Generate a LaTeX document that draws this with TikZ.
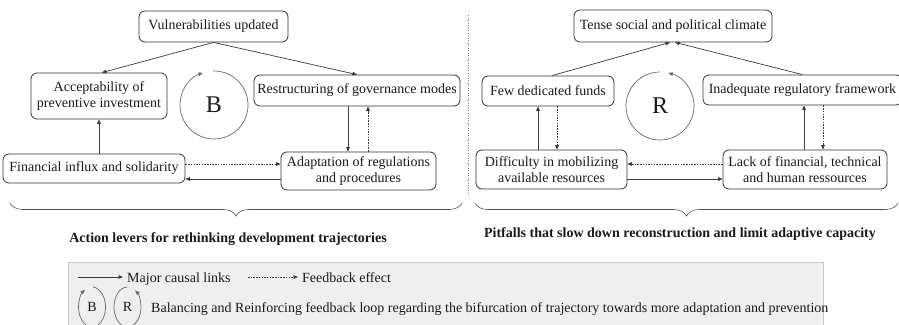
\documentclass[tikz,border=0pt]{standalone}
\usepackage{fontspec}
\setmainfont{Liberation Serif}
\usetikzlibrary{arrows.meta,decorations.pathreplacing,calc}
\definecolor{boxc}{HTML}{333333}
\definecolor{linec}{HTML}{3A3A3A}
\definecolor{circc}{HTML}{6A6A6A}
\definecolor{txt}{HTML}{1A1A1A}
\definecolor{legfill}{HTML}{EFEFEF}
\definecolor{legline}{HTML}{C8C8C8}
\definecolor{bracec}{HTML}{555555}
\begin{document}
\begin{tikzpicture}[x=1pt,y=-1pt,
  box/.style={draw=boxc, line width=0.8pt, rounded corners=6pt, align=center, inner sep=1pt,
    font=\fontsize{14}{16}\selectfont, text=txt},
  causal/.style={draw=linec, line width=0.7pt, -{Triangle[length=4.5pt,width=3.6pt]}},
  fb/.style={causal, dash pattern=on 1.5pt off 1.2pt},
  loopc/.style={draw=circc, line width=0.7pt, -{Triangle[length=4.5pt,width=3.6pt]}},
  bigletter/.style={font=\fontsize{24}{24}\selectfont, text=txt, inner sep=0pt},
  smallletter/.style={font=\fontsize{14}{16}\selectfont, text=txt, inner sep=0pt},
  lbl/.style={font=\bfseries\fontsize{14}{16}\selectfont, text=txt, anchor=base, inner sep=0pt},
  legtext/.style={font=\fontsize{14}{16}\selectfont, text=txt, anchor=base west, inner sep=0pt},
  bracestyle/.style={draw=bracec, line width=0.6pt, decorate, decoration={brace, amplitude=13pt, aspect=0.5}}
]
\useasboundingbox (0,0) rectangle (899,324);
\fill[white] (0,0) rectangle (899,324);

% left panel
\node[box, minimum width=149pt, minimum height=31pt] (vul) at (213.5,26.5) {Vulnerabilities updated};
\node[box, minimum width=136pt, minimum height=46pt] (acc) at (99,96) {Acceptability of\\preventive investment};
\node[box, minimum width=206pt, minimum height=31pt] (res) at (357,90.5) {Restructuring of governance modes};
\node[box, minimum width=182pt, minimum height=29pt] (fin) at (94,168.5) {Financial influx and solidarity};
\node[box, minimum width=155pt, minimum height=38pt] (ada) at (358.5,171) {Adaptation of regulations\\and procedures};

\draw[causal] (vul.south) -- ([xshift=3pt]acc.north);
\draw[causal] (vul.south) -- (res.north);
\draw[causal] (acc.south |- fin.north) -- (acc.south);
\draw[causal] ([xshift=-9pt]res.south) -- ([xshift=-9pt]res.south |- ada.north);
\draw[fb] ([xshift=11pt]res.south |- ada.north) -- ([xshift=11pt]res.south);
\draw[fb] ([yshift=4.5pt]fin.east) -- ([yshift=4.5pt]fin.east -| ada.west);
\draw[causal] ([yshift=-10.5pt]fin.east -| ada.west) -- ([yshift=-10.5pt]fin.east);

\node[bigletter] (B) at (214,105) {B};
\draw[loopc] ([shift={(92:34pt)}]B.center) arc[start angle=92, end angle=-251, radius=34pt];

% separator
\draw[draw=gray, line width=0.5pt, dotted] (468,15) -- (468,195);

% right panel
\node[box, minimum width=198pt, minimum height=32pt] (tense) at (673,26) {Tense social and political climate};
\node[box, minimum width=132pt, minimum height=30pt] (few) at (548,91) {Few dedicated funds};
\node[box, minimum width=199pt, minimum height=30pt] (inad) at (802.5,90) {Inadequate regulatory framework};
\node[box, minimum width=151pt, minimum height=39pt] (diff) at (551.5,169.5) {Difficulty in mobilizing\\available resources};
\node[box, minimum width=164pt, minimum height=39pt] (lack) at (805,169.5) {Lack of financial, technical\\and human ressources};

\draw[causal] ([xshift=4pt]few.north) -- ([xshift=-3pt]tense.south);
\draw[causal] (inad.north) -- ([xshift=2pt]tense.south);
\draw[causal] ([xshift=-13.5pt]diff.north) -- ([xshift=-13.5pt]diff.north |- few.south);
\draw[fb] ([xshift=5.5pt]diff.north |- few.south) -- ([xshift=5.5pt]diff.north);
\draw[causal] ([xshift=-1pt]lack.north) -- ([xshift=-1pt]lack.north |- inad.south);
\draw[fb] ([xshift=18pt]lack.north |- inad.south) -- ([xshift=18pt]lack.north);
\draw[fb] ([yshift=5.5pt]lack.west) -- ([yshift=5.5pt]lack.west -| diff.east);
\draw[causal] ([yshift=-9.5pt]diff.east) -- ([yshift=-9.5pt]diff.east -| lack.west);

\node[bigletter] (R) at (660,106) {R};
\draw[loopc] ([shift={(90:34pt)}]R.center) arc[start angle=90, end angle=436, radius=34pt];

% braces and labels
\draw[bracestyle] (462,203) -- (10,203);
\draw[bracestyle] (898,203) -- (475,203);
\node[lbl] (lab1) at (228,242) {Action levers for rethinking development trajectories};
\node[lbl] (lab2) at (680,237) {Pitfalls that slow down reconstruction and limit adaptive capacity};

% legend
\draw[fill=legfill, draw=legline, line width=0.6pt] (68,262) rectangle (823,334);
\coordinate (la) at (78,277);
\coordinate (lb) at (123,277);
\draw[causal] (la) -- (lb);
\node[legtext] (lt1) at (127,282) {Major causal links};
\coordinate (lc) at (248,277);
\coordinate (ld) at (298,277);
\draw[fb] (lc) -- (ld);
\node[legtext] (lt2) at (302,282) {Feedback effect};

\node[smallletter] (LB) at (92,307) {B};
\draw[loopc] ([shift={(86:13.5pt and 20pt)}]LB.center) arc[start angle=86, end angle=-239, x radius=13.5pt, y radius=20pt];
\node[smallletter] (LR) at (127.5,307) {R};
\draw[loopc] ([shift={(92:13.5pt and 20pt)}]LR.center) arc[start angle=92, end angle=416, x radius=13.5pt, y radius=20pt];
\node[legtext] (lt3) at (151,312) {Balancing and Reinforcing feedback loop regarding the bifurcation of trajectory towards more adaptation and prevention};
\end{tikzpicture}
\end{document}
